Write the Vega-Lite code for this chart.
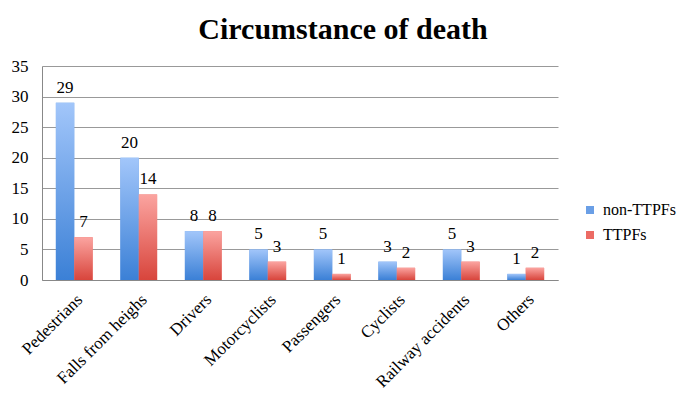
{
  "$schema": "https://vega.github.io/schema/vega-lite/v6.json",
  "autosize": "none",
  "width": 516,
  "height": 214,
  "padding": {"left": 42, "top": 66, "right": 127, "bottom": 120},
  "background": "white",
  "title": {
    "text": "Circumstance of death",
    "font": "Liberation Serif",
    "fontSize": 30,
    "fontWeight": "bold",
    "color": "black",
    "anchor": "middle",
    "dx": 43,
    "offset": 12
  },
  "data": {
    "values": [
      {"category": "Pedestrians", "group": "non-TTPFs", "value": 29},
      {"category": "Pedestrians", "group": "TTPFs", "value": 7},
      {"category": "Falls from heighs", "group": "non-TTPFs", "value": 20},
      {"category": "Falls from heighs", "group": "TTPFs", "value": 14},
      {"category": "Drivers", "group": "non-TTPFs", "value": 8},
      {"category": "Drivers", "group": "TTPFs", "value": 8},
      {"category": "Motorcyclists", "group": "non-TTPFs", "value": 5},
      {"category": "Motorcyclists", "group": "TTPFs", "value": 3},
      {"category": "Passengers", "group": "non-TTPFs", "value": 5},
      {"category": "Passengers", "group": "TTPFs", "value": 1},
      {"category": "Cyclists", "group": "non-TTPFs", "value": 3},
      {"category": "Cyclists", "group": "TTPFs", "value": 2},
      {"category": "Railway accidents", "group": "non-TTPFs", "value": 5},
      {"category": "Railway accidents", "group": "TTPFs", "value": 3},
      {"category": "Others", "group": "non-TTPFs", "value": 1},
      {"category": "Others", "group": "TTPFs", "value": 2}
    ]
  },
  "encoding": {
    "x": {
      "field": "category",
      "type": "nominal",
      "sort": null,
      "title": null,
      "scale": {"paddingInner": 0.43, "paddingOuter": 0.215},
      "axis": {
        "labelAngle": -45,
        "labelAlign": "right",
        "labelBaseline": "top",
        "labelFont": "Liberation Serif",
        "labelFontSize": 17,
        "labelColor": "black",
        "labelPadding": 11,
        "ticks": false,
        "domainColor": "#888888",
        "labelLimit": 200
      }
    },
    "xOffset": {"field": "group", "type": "nominal", "sort": ["non-TTPFs", "TTPFs"]},
    "y": {
      "field": "value",
      "type": "quantitative",
      "title": null,
      "scale": {"domain": [0, 35]},
      "axis": {
        "values": [0, 5, 10, 15, 20, 25, 30, 35],
        "labelFont": "Liberation Serif",
        "labelFontSize": 17,
        "labelColor": "black",
        "labelPadding": 14,
        "ticks": false,
        "domainColor": "#888888",
        "gridColor": "#999999",
        "grid": true
      }
    }
  },
  "layer": [
    {
      "mark": {"type": "bar"},
      "encoding": {
        "color": {
          "field": "group",
          "type": "nominal",
          "sort": ["non-TTPFs", "TTPFs"],
          "scale": {"domain": ["non-TTPFs", "TTPFs"], "range": ["#6a9fe6", "#ec6b64"]},
          "legend": {
            "title": null,
            "orient": "none",
            "legendX": 540,
            "legendY": 136,
            "symbolType": "square",
            "symbolSize": 64,
            "symbolStrokeWidth": 0,
            "labelFont": "Liberation Serif",
            "labelFontSize": 16,
            "labelColor": "black",
            "rowPadding": 9,
            "labelOffset": 5
          }
        }
      }
    },
    {
      "transform": [{"filter": "datum.group === 'non-TTPFs'"}],
      "mark": {
        "type": "bar",
        "color": {
          "gradient": "linear",
          "x1": 0, "y1": 0, "x2": 0, "y2": 1,
          "stops": [
            {"offset": 0, "color": "#a2c6fa"},
            {"offset": 1, "color": "#3b80d6"}
          ]
        }
      }
    },
    {
      "transform": [{"filter": "datum.group === 'TTPFs'"}],
      "mark": {
        "type": "bar",
        "color": {
          "gradient": "linear",
          "x1": 0, "y1": 0, "x2": 0, "y2": 1,
          "stops": [
            {"offset": 0, "color": "#fba4a0"},
            {"offset": 1, "color": "#d8453c"}
          ]
        }
      }
    },
    {
      "mark": {
        "type": "text",
        "baseline": "bottom",
        "dy": -6,
        "font": "Liberation Serif",
        "fontSize": 17,
        "color": "black"
      },
      "encoding": {
        "text": {"field": "value", "type": "quantitative"}
      }
    }
  ],
  "config": {
    "view": {"stroke": null}
  }
}
